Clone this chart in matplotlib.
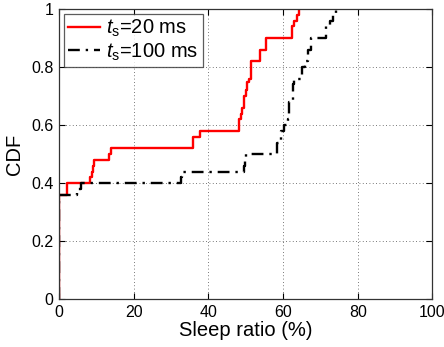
import matplotlib
matplotlib.use("Agg")
import matplotlib.pyplot as plt

plt.rcParams['font.family'] = ['Liberation Sans', 'DejaVu Sans']
plt.rcParams['mathtext.fontset'] = 'custom'
plt.rcParams['mathtext.rm'] = 'Liberation Sans'
plt.rcParams['mathtext.it'] = 'Liberation Sans:italic'

# step CDFs (x = sleep ratio in %, y = CDF level after the step)
red_x = [0, 0, 2.2, 8.3, 8.7, 9.0, 9.3, 13.5, 13.9, 36.0, 37.7, 48.2, 48.6, 49.1, 49.5,
         50.0, 50.4, 50.9, 51.4, 53.8, 55.5, 62.3, 63.0, 63.7, 64.3]
red_y = [0, 0.36, 0.40, 0.42, 0.44, 0.46, 0.48, 0.50, 0.52, 0.56, 0.58, 0.62, 0.64, 0.66, 0.70,
         0.72, 0.75, 0.76, 0.82, 0.86, 0.90, 0.94, 0.96, 0.98, 1.0]

blk_x = [0, 0, 4.8, 5.8, 32.6, 33.0, 49.6, 49.8, 50.0, 58.3, 59.5, 60.3, 61.2, 61.7, 62.7,
         63.0, 65.0, 65.9, 66.6, 67.4, 71.5, 72.5, 73.3, 74.2]
blk_y = [0, 0.36, 0.38, 0.40, 0.42, 0.44, 0.46, 0.48, 0.50, 0.54, 0.58, 0.60, 0.62, 0.68, 0.74,
         0.76, 0.80, 0.82, 0.86, 0.90, 0.94, 0.96, 0.98, 1.0]

fig = plt.figure(figsize=(4.44, 3.47), dpi=100)
ax = fig.add_axes([0.133, 0.1375, 0.841, 0.8365])

ax.step(red_x, red_y, where='post', color='red', lw=1.7, label=r'$t_\mathrm{s}$=20 ms')
ax.step(blk_x, blk_y, where='post', color='black', lw=1.7, linestyle='-.',
        dashes=(5, 2.5, 1, 2.5), label=r'$t_\mathrm{s}$=100 ms')

ax.set_xlim(0, 100)
ax.set_ylim(0, 1)
ax.set_xticks([0, 20, 40, 60, 80, 100])
ax.set_yticks([0, 0.2, 0.4, 0.6, 0.8, 1])
ax.set_yticklabels(['0', '0.2', '0.4', '0.6', '0.8', '1'])
ax.tick_params(direction='in', top=True, right=True, labelsize=11.5, length=4, width=0.8, pad=4)
ax.grid(True, linestyle=(0, (1, 3)), color='black', lw=0.6, alpha=0.7)
for s in ax.spines.values():
    s.set_color('#333333')
    s.set_linewidth(0.9)

ax.set_xlabel('Sleep ratio (%)', fontsize=14.5, labelpad=1)
ax.set_ylabel('CDF', fontsize=14.5, labelpad=5)

leg = ax.legend(loc='upper left', bbox_to_anchor=(0.0134, 0.983), borderaxespad=0,
                fontsize=14.5, frameon=True, fancybox=False, handlelength=1.6,
                handletextpad=0.3, borderpad=0.2, labelspacing=0.1)
leg.get_frame().set_edgecolor('#333333')
leg.get_frame().set_linewidth(0.9)

fig.savefig('out.png', dpi=100)
